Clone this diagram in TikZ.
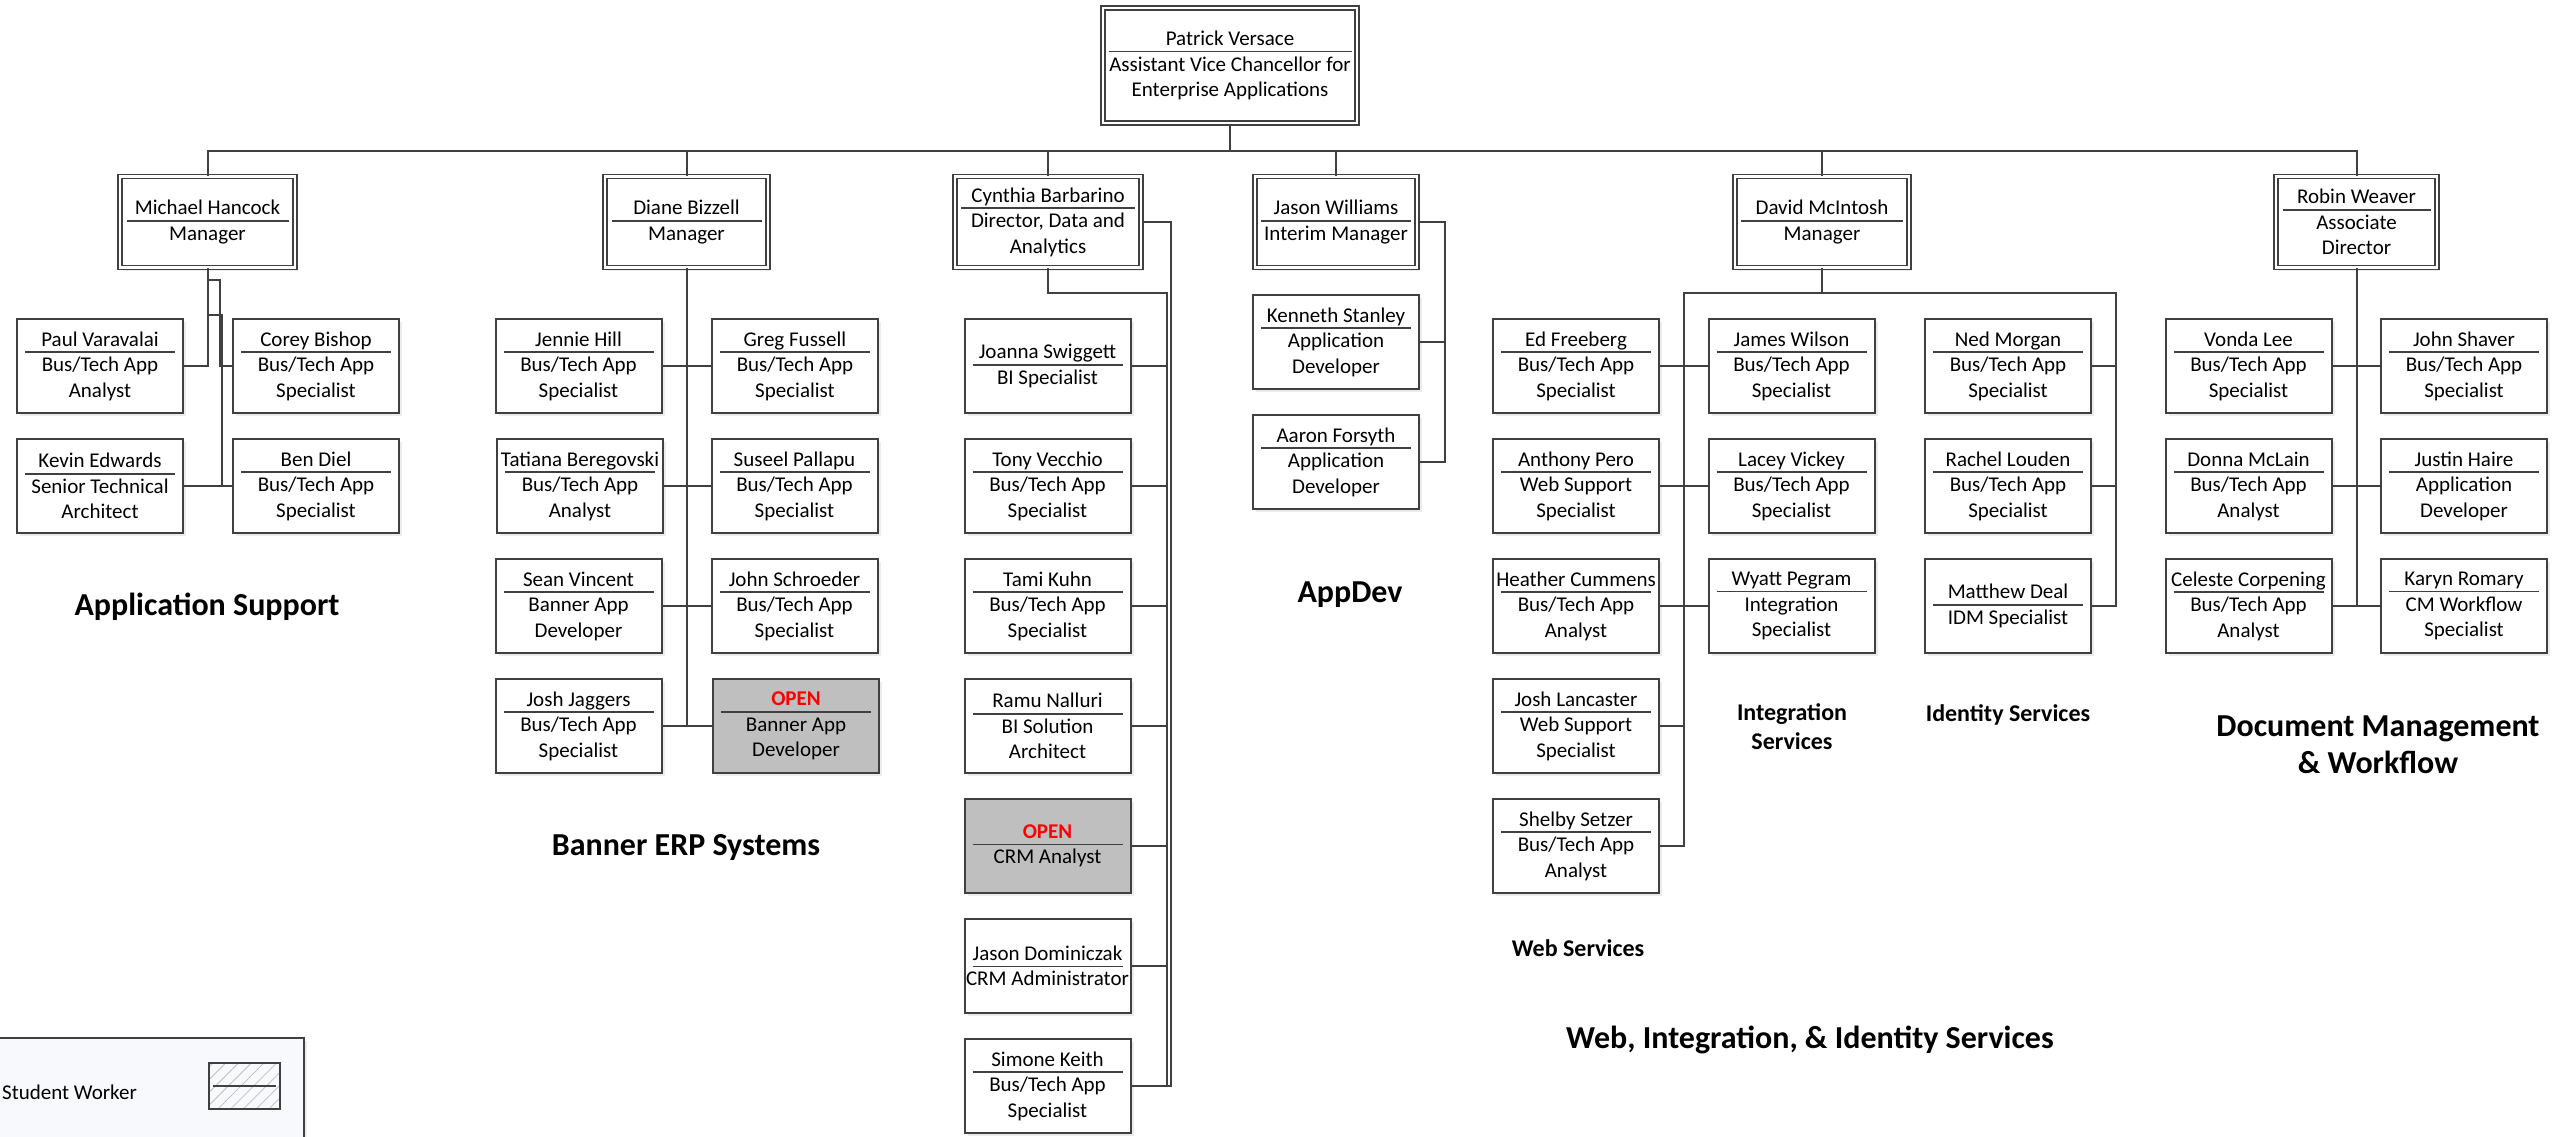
\documentclass[tikz,border=0pt]{standalone}
\usepackage{fontspec}
\setmainfont{Carlito}
\usetikzlibrary{shadows,patterns.meta}

\definecolor{linec}{HTML}{404040}
\definecolor{openfill}{HTML}{BFBFBF}
\definecolor{legendfill}{HTML}{F7F9FC}
\newcommand{\boxfont}{\fontsize{21}{25.5}\selectfont}
% name, short rule under it, then the title lines
\newcommand{\who}[3][150pt]{\makebox[0pt]{#2}\smash{\makebox[0pt]{\raisebox{-6.8pt}{\color{linec}\rule{#1}{1.6pt}}}}\\#3}
\newcommand{\vacant}{\textcolor{red}{\bfseries OPEN}}

\begin{document}
\begin{tikzpicture}[x=1pt,y=-1pt,
  conn/.style={draw=linec,line width=2pt},
  staff/.style={draw=linec,line width=2pt,fill=white,minimum width=166pt,minimum height=94pt,
    inner sep=0pt,align=center,font=\boxfont,
    drop shadow={shadow xshift=3pt,shadow yshift=-3pt,opacity=0.15}},
  vacant box/.style={staff,fill=openfill},
  lead/.style={staff,double=white,line width=1.6pt,double distance=2.6pt,minimum height=91pt},
  unit/.style={font=\fontsize{32}{37}\selectfont\bfseries,align=center},
  team/.style={font=\fontsize{24}{29}\selectfont\bfseries,align=center}]

  \useasboundingbox (0,0) rectangle (2572,1136);
  \fill[white] (0,0) rectangle (2572,1136);

  \node[lead,minimum width=254pt,minimum height=115pt] (pv0) at (1230,65.5) {\who[243pt]{Patrick Versace}{Assistant Vice Chancellor for\\Enterprise Applications}};

  % managers
  \node[lead,minimum width=175pt] (mh) at (207.5,222) {\who[162pt]{Michael Hancock}{Manager}};
  \node[lead,minimum width=163pt] (db) at (686.5,222) {\who{Diane Bizzell}{Manager}};
  \node[lead,minimum width=186pt] (cyb) at (1048,222) {\who[174pt]{Cynthia Barbarino}{Director, Data and\\Analytics}};
  \node[lead,minimum width=162pt] (jwi) at (1336,222) {\who{Jason Williams}{Interim Manager}};
  \node[lead,minimum width=174pt] (dm) at (1822,222) {\who[162pt]{David McIntosh}{Manager}};
  \node[lead,minimum width=161pt] (rw) at (2356.5,222) {\who[148pt]{Robin Weaver}{Associate\\Director}};

  % application support
  \node[staff] (pvr) at (100,366) {\who{Paul Varavalai}{Bus/Tech App\\Analyst}};
  \node[staff] (ke) at (100,486) {\who{Kevin Edwards}{Senior Technical\\Architect}};
  \node[staff] (cbi) at (316,366) {\who{Corey Bishop}{Bus/Tech App\\Specialist}};
  \node[staff] (bd) at (316,486) {\who{Ben Diel}{Bus/Tech App\\Specialist}};

  % banner
  \node[staff] (jh) at (578.5,366) {\who{Jennie Hill}{Bus/Tech App\\Specialist}};
  \node[staff] (gfu) at (795,366) {\who{Greg Fussell}{Bus/Tech App\\Specialist}};
  \node[staff] (tb) at (580,486) {\who{Tatiana Beregovski}{Bus/Tech App\\Analyst}};
  \node[staff] (sp) at (794.5,486) {\who{Suseel Pallapu}{Bus/Tech App\\Specialist}};
  \node[staff] (sv) at (578.5,606) {\who{Sean Vincent}{Banner App\\Developer}};
  \node[staff] (jsc) at (794.5,606) {\who{John Schroeder}{Bus/Tech App\\Specialist}};
  \node[staff] (jj) at (578.5,726) {\who{Josh Jaggers}{Bus/Tech App\\Specialist}};
  \node[vacant box] (op1) at (796,726) {\who{\vacant}{Banner App\\Developer}};

  % data and analytics
  \node[staff] (jsw) at (1047.5,366) {\who{Joanna Swiggett}{BI Specialist}};
  \node[staff] (tv) at (1047.5,486) {\who{Tony Vecchio}{Bus/Tech App\\Specialist}};
  \node[staff] (tk) at (1047.5,606) {\who{Tami Kuhn}{Bus/Tech App\\Specialist}};
  \node[staff] (rn) at (1047.5,726) {\who{Ramu Nalluri}{BI Solution\\Architect}};
  \node[vacant box] (op2) at (1047.5,846) {\who{\vacant}{CRM Analyst}};
  \node[staff] (jd) at (1047.5,966) {\who{Jason Dominiczak}{CRM Administrator}};
  \node[staff] (sk) at (1047.5,1086) {\who{Simone Keith}{Bus/Tech App\\Specialist}};

  % appdev
  \node[staff] (ks) at (1336,342) {\who{Kenneth Stanley}{Application\\Developer}};
  \node[staff] (af) at (1336,462) {\who{Aaron Forsyth}{Application\\Developer}};

  % web, integration, identity
  \node[staff] (ef) at (1576,366) {\who{Ed Freeberg}{Bus/Tech App\\Specialist}};
  \node[staff] (ap) at (1576,486) {\who{Anthony Pero}{Web Support\\Specialist}};
  \node[staff] (hc) at (1576,606) {\who{Heather Cummens}{Bus/Tech App\\Analyst}};
  \node[staff] (jl) at (1576,726) {\who{Josh Lancaster}{Web Support\\Specialist}};
  \node[staff] (ss) at (1576,846) {\who{Shelby Setzer}{Bus/Tech App\\Analyst}};
  \node[staff] (jwl) at (1791.5,366) {\who{James Wilson}{Bus/Tech App\\Specialist}};
  \node[staff] (lv) at (1791.5,486) {\who{Lacey Vickey}{Bus/Tech App\\Specialist}};
  \node[staff] (wp) at (1791.5,606) {\who{Wyatt Pegram}{Integration\\Specialist}};
  \node[staff] (nm) at (2008,366) {\who{Ned Morgan}{Bus/Tech App\\Specialist}};
  \node[staff] (rl) at (2008,486) {\who{Rachel Louden}{Bus/Tech App\\Specialist}};
  \node[staff] (mdl) at (2008,606) {\who{Matthew Deal}{IDM Specialist}};

  % document management
  \node[staff] (vl) at (2248.5,366) {\who{Vonda Lee}{Bus/Tech App\\Specialist}};
  \node[staff] (dml) at (2248.5,486) {\who{Donna McLain}{Bus/Tech App\\Analyst}};
  \node[staff] (cc) at (2248.5,606) {\who{Celeste Corpening}{Bus/Tech App\\Analyst}};
  \node[staff] (jsh) at (2464,366) {\who{John Shaver}{Bus/Tech App\\Specialist}};
  \node[staff] (jha) at (2464,486) {\who{Justin Haire}{Application\\Developer}};
  \node[staff] (kr) at (2464,606) {\who{Karyn Romary}{CM Workflow\\Specialist}};

  % group labels
  \node[unit] (l1) at (207,607) {Application Support};
  \node[unit] (l2) at (686,848) {Banner ERP Systems};
  \node[unit] (l3) at (1350,595) {AppDev};
  \node[unit] (l4) at (2378,745) {Document Management\\\& Workflow};
  \node[unit] (l5) at (1810,1040) {Web, Integration, \& Identity Services};
  \node[team] (t1) at (1578,948) {Web Services};
  \node[team] (t2) at (1792,727) {Integration\\Services};
  \node[team] (t3) at (2008,715) {Identity Services};

  % legend
  \draw[draw=linec,line width=2pt,fill=legendfill,drop shadow={shadow xshift=3pt,shadow yshift=-3pt,opacity=0.15}] (-10,1038) rectangle (304,1150);
  \node[anchor=west,font=\boxfont,inner sep=0pt] (swt) at (2,1092) {Student Worker};
  \node[draw=linec,line width=2pt,minimum width=71pt,minimum height=46pt,
    pattern={Lines[angle=45,distance=9pt,line width=0.8pt]},pattern color=black!25] (swk) at (244.5,1086) {};
  \draw[linec,line width=1.6pt] ([xshift=4pt]swk.west) -- ([xshift=-4pt]swk.east);

  % connectors
  \coordinate (bus) at (0,151);
  \coordinate (cyv) at (1167,293);
  \coordinate (dml0) at (1684,293);
  \coordinate (dmr0) at (2116,293);

  \draw[conn] (mh.north) |- (rw.north |- bus) -- (rw.north);
  \path[conn]
    (pv0.south) edge (pv0.south |- bus)
    (db.north) edge (db.north |- bus)
    (cyb.north) edge (cyb.north |- bus)
    (jwi.north) edge (jwi.north |- bus)
    (dm.north) edge (dm.north |- bus);

  \draw[conn] (mh.south) |- (pvr.east);
  \draw[conn] (mh.south) ++(0,12) -- ++(12,0) |- (cbi.west);
  \draw[conn] (mh.south) ++(0,47) -- ++(14,0) |- (bd.west);
  \path[conn] (ke.east) edge (bd.west);

  \path[conn]
    (db.south) edge (db.south |- jj.east)
    (jh.east) edge (gfu.west)
    (tb.east) edge (sp.west)
    (sv.east) edge (jsc.west)
    (jj.east) edge (op1.west);

  \draw[conn] (cyb.south) |- (cyv) |- (sk.east);
  \draw[conn] (cyb.east) -- ++(29,0) |- (sk.east);
  \path[conn]
    (jsw.east) edge (jsw.east -| cyv)
    (tv.east) edge (tv.east -| cyv)
    (tk.east) edge (tk.east -| cyv)
    (rn.east) edge (rn.east -| cyv)
    (op2.east) edge (op2.east -| cyv)
    (jd.east) edge (jd.east -| cyv);

  \draw[conn] (jwi.east) -- ++(27,0) |- (af.east);
  \draw[conn] (ks.east) -- ++(25,0);

  \draw[conn] (dm.south) |- (dml0) |- (ss.east);
  \draw[conn] (dm.south) |- (dmr0) |- (mdl.east);
  \path[conn]
    (ef.east) edge (jwl.west)
    (ap.east) edge (lv.west)
    (hc.east) edge (wp.west)
    (jl.east) edge (jl.east -| dml0)
    (nm.east) edge (nm.east -| dmr0)
    (rl.east) edge (rl.east -| dmr0);

  \path[conn]
    (rw.south) edge (rw.south |- cc.east)
    (vl.east) edge (jsh.west)
    (dml.east) edge (jha.west)
    (cc.east) edge (kr.west);
\end{tikzpicture}
\end{document}
